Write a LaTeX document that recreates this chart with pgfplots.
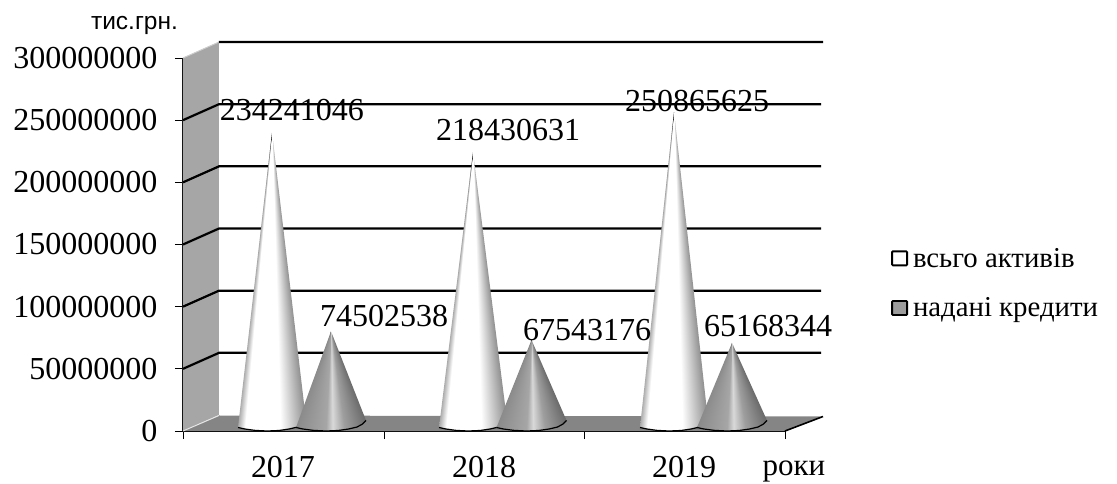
\documentclass[border=0pt]{standalone}
\usepackage{fontspec}
\setmainfont{Liberation Serif}
\newfontfamily\labelsans{Liberation Sans}
\usepackage{pgfplots}
\usepackage{pgfplotstable}
\pgfplotsset{compat=1.18}

\definecolor{wallgray}{HTML}{A6A6A6}
\definecolor{floorgray}{HTML}{858585}
\definecolor{legendgray}{HTML}{9C9C9C}

% cone shadings: grey depends on the ruling through the apex, t=-1 left edge, t=1 right edge
\pgfdeclarefunctionalshading{whitecone}{\pgfpointorigin}{\pgfpoint{100bp}{100bp}}{}{
  75 exch sub 0.01 add exch 50 sub exch div 2 mul
  dup -0.8 lt { 0.8 add 0.2 div 0.3 mul 1 add }
  { dup 0.25 gt { 0.25 sub 0.75 div 0.42 mul neg 1 add } { pop 1 } ifelse } ifelse
  dup dup
}
\pgfdeclarefunctionalshading{darkcone}{\pgfpointorigin}{\pgfpoint{100bp}{100bp}}{}{
  75 exch sub 0.01 add exch 50 sub exch div 2 mul
  dup -0.15 lt { 1 add 0.85 div 0.1 mul 0.55 add }
  { dup 0.05 lt { 0.15 add 0.2 div 0.2 mul 0.65 add }
    { dup 0.4 lt { 0.05 sub 0.35 div 0.23 mul neg 0.85 add }
      { 0.4 sub 0.6 div 0.17 mul neg 0.62 add } ifelse } ifelse } ifelse
  dup dup
}

% each cone: apex (value + depth offset), then its base rim left to right
\pgfplotstableread{
x y
272 239871046
238 2815000
245 1600000
255 500000
267 0
279 400000
289 1600000
297.5 3200000
302.6 5600000
306 8500000
}\whiteA
\pgfplotstableread{
x y
331 80132538
296 2815000
303 1600000
313.5 500000
326 0
338 400000
348.5 1600000
357 3200000
362.5 5600000
366 8500000
}\darkA
\pgfplotstableread{
x y
473 224060631
439 2815000
446 1600000
456 500000
468 0
480 400000
490 1600000
498.5 3200000
503.6 5600000
507 8500000
}\whiteB
\pgfplotstableread{
x y
531.5 73173176
496.5 2815000
503.5 1600000
514 500000
526.5 0
538.5 400000
549 1600000
557.5 3200000
563 5600000
566.5 8500000
}\darkB
\pgfplotstableread{
x y
674 256495625
640 2815000
647 1600000
657 500000
669 0
681 400000
691 1600000
699.5 3200000
704.6 5600000
708 8500000
}\whiteC
\pgfplotstableread{
x y
732 70798344
697 2815000
704 1600000
714.5 500000
727 0
739 400000
749.5 1600000
758 3200000
763.5 5600000
767 8500000
}\darkC

\begin{document}
\begin{tikzpicture}
\path[use as bounding box] (0,0) rectangle (1117pt,483pt);
\begin{axis}[
  at={(183pt,52pt)}, anchor=south west,
  scale only axis, width=602pt, height=373pt,
  xmin=183, xmax=785, ymin=0, ymax=300000000,
  clip=false,
  axis lines*=left,
  axis line style={black, line width=1.5pt},
  tick align=outside,
  major tick length=8pt,
  tick style={black, line width=0.9pt},
  xtick={183,384,584,785},
  xticklabels={},
  extra x ticks={283,484,684},
  extra x tick labels={2017,2018,2019},
  extra x tick style={major tick length=0pt, tick label style={yshift=-22pt}},
  ytick={0,50000000,100000000,150000000,200000000,250000000,300000000},
  scaled y ticks=false,
  yticklabel style={/pgf/number format/fixed, /pgf/number format/precision=0,
    /pgf/number format/1000 sep={}, /pgf/number format/assume math mode=true,
    xshift=-14pt},
  tick label style={font=\fontsize{32}{36}\selectfont},
  unbounded coords=jump,
  legend style={at={(axis cs:891,148900000)}, anchor=north west, draw=none, fill=none,
    inner sep=0pt, row sep=25pt, font=\fontsize{28.8}{32}\selectfont,
    /tikz/every odd column/.style={column sep=3pt}},
  legend cell align=left,
]
% left wall and floor
\addplot[fill=wallgray, draw=none, forget plot] coordinates
  {(183,0) (219,12870000) (219,312870000) (183,300000000)} -- cycle;
\addplot[fill=floorgray, draw=none, forget plot] coordinates
  {(183,0) (219,12470000) (823,11660000) (785,0)} -- cycle;
\addplot[black, line width=1.6pt, forget plot] coordinates {(785,0) (823,11660000)};
\addplot[black!10, line width=1pt, forget plot] coordinates {(183,0) (219,12470000)};
\addplot[black!20, line width=1pt, forget plot] coordinates {(183,300000000) (219,312870000)};
% gridlines along wall and back
\addplot[black, line width=2.2pt, forget plot] coordinates {
  (183,50000000) (219,62870000) (821,62870000) (821,nan)
  (183,100000000) (219,112870000) (821,112870000) (821,nan)
  (183,150000000) (219,162870000) (821,162870000) (821,nan)
  (183,200000000) (219,212870000) (821,212870000) (821,nan)
  (183,250000000) (219,262870000) (821,262870000) (821,nan)
  (219,312870000) (823,312870000)
};

% legend
\addlegendimage{legend image code/.code={\draw[black, line width=1.8pt, fill=white, rounded corners=0.8pt] (0pt,-7pt) rectangle (15pt,7pt);}}
\addlegendentry{всьго активів}
\addlegendimage{legend image code/.code={\draw[black, line width=1.8pt, fill=legendgray, rounded corners=0.8pt] (0pt,-7pt) rectangle (15pt,7pt);}}
\addlegendentry{надані кредити}

% cones
\addplot[shade, shading=whitecone, draw=none, forget plot] table {\whiteA} -- cycle;
\addplot[black, line width=1.2pt, forget plot, skip coords between index={0}{1}] table {\whiteA};
\addplot[shade, shading=darkcone, draw=none, forget plot] table {\darkA} -- cycle;
\addplot[black, line width=1.2pt, forget plot, skip coords between index={0}{1}] table {\darkA};

\addplot[shade, shading=whitecone, draw=none, forget plot] table {\whiteB} -- cycle;
\addplot[black, line width=1.2pt, forget plot, skip coords between index={0}{1}] table {\whiteB};
\addplot[shade, shading=darkcone, draw=none, forget plot] table {\darkB} -- cycle;
\addplot[black, line width=1.2pt, forget plot, skip coords between index={0}{1}] table {\darkB};

\addplot[shade, shading=whitecone, draw=none, forget plot] table {\whiteC} -- cycle;
\addplot[black, line width=1.2pt, forget plot, skip coords between index={0}{1}] table {\whiteC};
\addplot[shade, shading=darkcone, draw=none, forget plot] table {\darkC} -- cycle;
\addplot[black, line width=1.2pt, forget plot, skip coords between index={0}{1}] table {\darkC};

% value labels, placed where the reference has them
\addplot[draw=none, mark=none, forget plot, point meta=explicit symbolic,
  nodes near coords, nodes near coords align={center},
  every node near coord/.append style={font=\fontsize{32}{36}\selectfont, inner sep=0pt, text=black}]
  coordinates {
  (292,258177090) [234241046]
  (384,92493350) [74502538]
  (508,242091290) [218430631]
  (587,81233290) [67543176]
  (697,265415700) [250865625]
  (768,84450450) [65168344]
};

\node[font=\fontsize{31}{36}\selectfont, inner sep=0pt, anchor=base] at (axis cs:794,-35400000) {роки};
\node[font=\labelsans\fontsize{24.5}{28}\selectfont, inner sep=0pt] at (axis cs:134.5,326000000) {тис.грн.};
\end{axis}
\end{tikzpicture}
\end{document}
